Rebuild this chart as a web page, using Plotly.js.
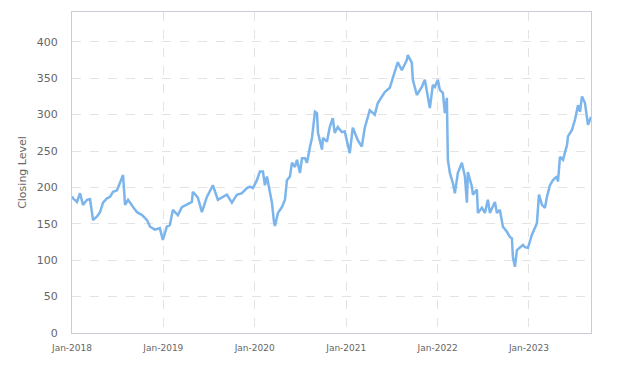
<!DOCTYPE html>
<html>
<head>
<meta charset="utf-8">
<script src="https://cdn.plot.ly/plotly-3.0.1.min.js"></script>
<style>html,body{margin:0;padding:0;background:#fff;}#chart{width:631px;height:366px;}</style>
</head>
<body>
<div id="chart"></div>
<script>
const dates = [
"2018-01-01","2018-01-05","2018-01-21","2018-02-02","2018-02-14","2018-03-02","2018-03-14","2018-03-26","2018-04-11","2018-04-23",
"2018-05-05","2018-05-21","2018-06-02","2018-06-14","2018-06-30","2018-07-12","2018-07-24","2018-08-01","2018-08-13","2018-09-02",
"2018-09-18","2018-10-08","2018-10-28","2018-11-09","2018-11-28","2018-12-18","2018-12-30","2019-01-15","2019-01-27","2019-02-08",
"2019-02-28","2019-03-16","2019-04-05","2019-04-25","2019-04-29","2019-05-19","2019-06-04","2019-06-24","2019-07-18","2019-08-07",
"2019-08-27","2019-09-12","2019-10-02","2019-10-22","2019-11-11","2019-12-01","2019-12-13","2019-12-25","2020-01-10","2020-01-22",
"2020-02-03","2020-02-11","2020-02-19","2020-02-23","2020-03-02","2020-03-10","2020-03-18","2020-03-22","2020-04-03","2020-04-19",
"2020-05-01","2020-05-09","2020-05-21","2020-05-29","2020-06-10","2020-06-18","2020-06-30","2020-07-08","2020-07-20","2020-07-28",
"2020-08-09","2020-08-17","2020-08-29","2020-09-06","2020-09-10","2020-09-26","2020-09-30","2020-10-16","2020-10-27","2020-11-08",
"2020-11-16","2020-11-28","2020-12-14","2020-12-26","2021-01-15","2021-01-27","2021-02-16","2021-03-04","2021-03-16","2021-04-05",
"2021-04-25","2021-05-07","2021-06-04","2021-06-24","2021-07-14","2021-07-26","2021-08-11","2021-08-31","2021-09-04","2021-09-20",
"2021-09-24","2021-10-10","2021-10-30","2021-11-11","2021-12-01","2021-12-13","2021-12-21","2022-01-02","2022-01-10","2022-01-22",
"2022-01-30","2022-02-07","2022-02-11","2022-02-19","2022-03-03","2022-03-11","2022-03-23","2022-04-08","2022-04-20","2022-04-28",
"2022-05-02","2022-05-18","2022-05-22","2022-06-07","2022-06-11","2022-06-27","2022-07-09","2022-07-21","2022-07-29","2022-08-18",
"2022-08-26","2022-09-07","2022-09-19","2022-10-05","2022-10-17","2022-10-25","2022-10-29","2022-11-06","2022-11-14","2022-11-26",
"2022-12-08","2022-12-16","2022-12-28","2023-01-13","2023-02-02","2023-02-10","2023-02-22","2023-03-06","2023-03-14","2023-03-26",
"2023-04-07","2023-04-23","2023-04-27","2023-05-05","2023-05-17","2023-06-02","2023-06-06","2023-06-22","2023-07-04","2023-07-16",
"2023-07-24","2023-08-01","2023-08-13","2023-08-25","2023-09-06"
];
const closing = [
188,185,180,192,176,183,184,155,160,166,
179,185,187,194,196,206,217,176,183,173,
166,162,155,146,142,144,128,146,148,169,
162,173,176,180,194,186,166,187,203,183,
187,190,179,190,192,199,201,199,210,222,
222,203,215,208,192,179,153,147,165,173,
183,210,215,234,228,238,220,240,240,234,
256,268,304,302,275,252,268,263,283,295,
275,283,276,277,247,282,265,256,282,306,
300,316,331,337,359,372,361,375,382,371,
348,327,338,348,309,341,338,348,334,330,
302,323,238,220,206,192,220,234,215,179,
221,201,190,197,165,172,165,183,165,180,
165,169,146,139,132,130,104,91,114,117,
121,118,117,135,151,190,176,172,187,203,
210,215,208,242,238,258,270,279,293,313,
304,325,316,286,297
];
const yTicks = [0,50,100,150,200,250,300,350,400];
const xTickVals = ["2018-01-01","2019-01-01","2020-01-01","2021-01-01","2022-01-01","2023-01-01"];
const xTickText = ["Jan-2018","Jan-2019","Jan-2020","Jan-2021","Jan-2022","Jan-2023"];

const trace = {
  x: dates, y: closing, type: 'scatter', mode: 'lines',
  line: {color: '#7cb5ec', width: 2.5},
  hoverinfo: 'x+y'
};
const layout = {
  width: 631, height: 366,
  margin: {l: 72, r: 40, t: 12, b: 33},
  paper_bgcolor: '#fff', plot_bgcolor: '#fff',
  font: {family: 'DejaVu Sans, sans-serif', color: '#666666', size: 11},
  showlegend: false,
  xaxis: {
    type: 'date', range: ['2018-01-01', '2023-09-06'],
    tickvals: xTickVals, ticktext: xTickText,
    tickfont: {size: 9, color: '#666666'},
    ticklabelstandoff: 6,
    showgrid: true, gridcolor: '#e3e3e3', griddash: 'dash', gridwidth: 1,
    showline: true, linecolor: '#c8ccd6', linewidth: 1, mirror: true,
    ticks: '', zeroline: false
  },
  yaxis: {
    range: [0, 441], tickvals: yTicks,
    tickfont: {size: 11, color: '#666666'},
    ticklabelstandoff: 11,
    showgrid: true, gridcolor: '#e3e3e3', griddash: 'dash', gridwidth: 1,
    showline: true, linecolor: '#c8ccd6', linewidth: 1, mirror: true,
    ticks: '', zeroline: false,
    title: {text: 'Closing Level', font: {size: 11, color: '#666666'}, standoff: 7}
  }
};
Plotly.newPlot('chart', [trace], layout, {displayModeBar: false, staticPlot: true});
</script>
</body>
</html>
